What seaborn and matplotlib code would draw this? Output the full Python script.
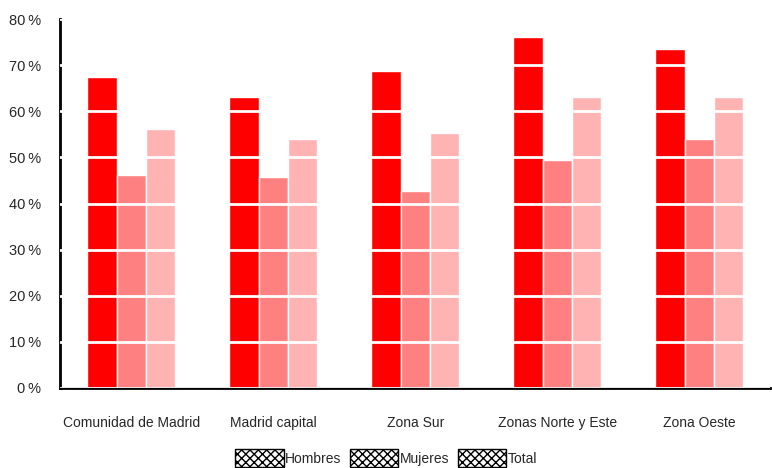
import pandas as pd
import matplotlib
matplotlib.use('Agg')
import matplotlib.pyplot as plt
import matplotlib.patches as mpatches
from matplotlib.ticker import FuncFormatter
import seaborn as sns

zonas = ['Comunidad de Madrid', 'Madrid capital', 'Zona Sur', 'Zonas Norte y Este', 'Zona Oeste']
hombres = [67.5, 63.1, 68.8, 76.1, 73.5]
mujeres = [46.2, 45.8, 42.7, 49.5, 54.0]
total = [56.2, 54.0, 55.3, 63.1, 63.1]
series = ['Hombres', 'Mujeres', 'Total']
colores = ['#FF0000', '#FF8080', '#FFB3B3']

df = pd.DataFrame({
    'zona': zonas * 3,
    'serie': [s for s in series for _ in zonas],
    'valor': hombres + mujeres + total,
})

sns.set_style('white')
plt.rcParams['font.family'] = ['Liberation Sans', 'DejaVu Sans']

fig = plt.figure(figsize=(7.72, 4.68), dpi=100)
ax = fig.add_axes([0.078, 0.171, 0.92, 0.788])

sns.barplot(data=df, x='zona', y='valor', hue='serie', palette=colores,
            width=0.62, edgecolor='white', linewidth=1, saturation=1,
            legend=False, ax=ax)

ax.set_ylim(0, 80)
ax.set_yticks(range(0, 81, 10))
ax.yaxis.set_major_formatter(FuncFormatter(lambda v, p: f'{v:.0f}\u2009%'))
ax.set_axisbelow(False)
ax.yaxis.grid(True, color='white', linewidth=2)
ax.xaxis.grid(False)

for s in ['top', 'right']:
    ax.spines[s].set_visible(False)
for s in ['left', 'bottom']:
    ax.spines[s].set_linewidth(2)
    ax.spines[s].set_color('black')

ax.tick_params(axis='x', length=0, pad=20, labelsize=10)
ax.tick_params(axis='y', length=0, pad=14, labelsize=10.5)
ax.set_xlabel('')
ax.set_ylabel('')

handles = [mpatches.Patch(facecolor='white', edgecolor='black', hatch='xxxx', label=s)
           for s in series]
fig.legend(handles=handles, loc='lower center', ncol=3, frameon=False,
           bbox_to_anchor=(0.5, -0.025), fontsize=10, handlelength=3.5,
           handleheight=1.6, handletextpad=0.1, columnspacing=0.6)

fig.savefig('out.png', dpi=100)
